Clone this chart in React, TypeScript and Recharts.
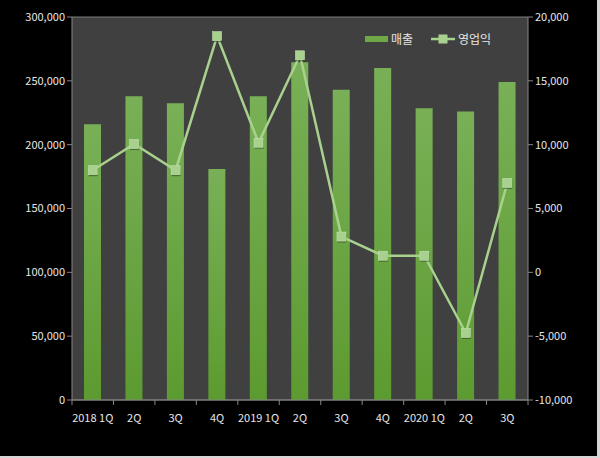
import React from 'react'
import {
  ComposedChart,
  Bar,
  Line,
  XAxis,
  YAxis,
  CartesianGrid,
} from 'recharts'

const quarters = ['2018 1Q', '2Q', '3Q', '4Q', '2019 1Q', '2Q', '3Q', '4Q', '2020 1Q', '2Q', '3Q']
const sales = [216000, 238000, 232500, 181000, 238000, 264500, 243000, 260000, 228500, 226000, 249000]
const operatingProfit = [8000, 10050, 8000, 18500, 10150, 17000, 2800, 1300, 1300, -4750, 7000]

const salesTicks = [0, 50000, 100000, 150000, 200000, 250000, 300000]
const profitTicks = [-10000, -5000, 0, 5000, 10000, 15000, 20000]

const data = quarters.map((q, i) => ({
  key: `${i}-${q}`,
  label: q,
  매출: sales[i],
  영업익: operatingProfit[i],
}))

const W = 600
const H = 458
const MARGIN = { top: 17, right: 0, left: 0, bottom: 0 }
const AXIS_W = 72
const AXIS_H = 58
const PLOT_W = W - AXIS_W * 2
const BAND = PLOT_W / quarters.length

const FONT = '"Noto Sans CJK KR", "Noto Sans", sans-serif'
const TEXT = '#e6e6e6'
const AXIS = '#868686'
const LINE = '#a9d18e'

const fmt = (v: number) => v.toLocaleString('en-US')

// category label centred in its band, tick marks on the band edges
function QuarterTick(props: any) {
  const { x, y, payload, index } = props
  const left = x - BAND / 2
  return (
    <g>
      <line x1={left} y1={y - 8} x2={left} y2={y - 3} stroke={AXIS} />
      {index === quarters.length - 1 && (
        <line x1={left + BAND} y1={y - 8} x2={left + BAND} y2={y - 3} stroke={AXIS} />
      )}
      <text x={x} y={y + 14} textAnchor="middle" fill={TEXT} fontSize={11} fontFamily={FONT}>
        {data[index]?.label ?? payload.value}
      </text>
    </g>
  )
}

function SquareDot(props: any) {
  const { cx, cy } = props
  if (cx == null || cy == null) return null
  return (
    <g>
      <rect x={cx - 4} y={cy - 3} width={9} height={9} fill="#1a2a12" opacity={0.45} />
      <rect x={cx - 4.5} y={cy - 4.5} width={9} height={9} fill={LINE} stroke="#c4e0b0" strokeWidth={0.6} />
    </g>
  )
}

function LegendBox() {
  return (
    <svg width={160} height={20} style={{ position: 'absolute', left: 365, top: 30, overflow: 'visible' }}>
      <rect x={0} y={6} width={23} height={6} fill="#6fa846" />
      <text x={26} y={14} fill={TEXT} fontSize={12} fontFamily={FONT}>매출</text>
      <line x1={66} y1={9} x2={90} y2={9} stroke={LINE} strokeWidth={2.5} />
      <rect x={73.5} y={4.5} width={9} height={9} fill={LINE} />
      <text x={93} y={14} fill={TEXT} fontSize={12} fontFamily={FONT}>영업익</text>
    </svg>
  )
}

export default function App() {
  return (
    <div style={{ position: 'absolute', left: 0, top: 0, width: W, height: H, background: '#d6d6d6' }}>
      <div style={{ position: 'relative', width: W - 3, height: H - 2, background: '#000', overflow: 'hidden' }}>
        <ComposedChart width={W} height={H} data={data} margin={MARGIN}>
          <defs>
            <linearGradient id="salesFill" x1="0" y1="0" x2="0" y2="1">
              <stop offset="0%" stopColor="#79b057" />
              <stop offset="100%" stopColor="#5c9b30" />
            </linearGradient>
          </defs>
          <CartesianGrid vertical={false} fill="#404040" stroke="#7a7a7a" strokeWidth={1} />
          <XAxis
            dataKey="key"
            height={AXIS_H}
            tick={<QuarterTick />}
            tickLine={false}
            axisLine={{ stroke: AXIS }}
            interval={0}
          />
          <YAxis
            yAxisId="sales"
            orientation="left"
            width={AXIS_W}
            domain={[0, 300000]}
            ticks={salesTicks}
            tickFormatter={fmt}
            tick={{ fill: TEXT, fontSize: 11, fontFamily: FONT }}
            tickLine={{ stroke: AXIS }}
            tickSize={5}
            axisLine={{ stroke: AXIS }}
            allowDataOverflow
          />
          <YAxis
            yAxisId="profit"
            orientation="right"
            width={AXIS_W}
            domain={[-10000, 20000]}
            ticks={profitTicks}
            tickFormatter={fmt}
            tick={{ fill: TEXT, fontSize: 11, fontFamily: FONT }}
            tickLine={{ stroke: AXIS }}
            tickSize={5}
            axisLine={{ stroke: AXIS }}
            allowDataOverflow
          />
          <Bar
            yAxisId="sales"
            dataKey="매출"
            fill="url(#salesFill)"
            barSize={17}
            isAnimationActive={false}
          />
          <Line
            yAxisId="profit"
            type="linear"
            dataKey="영업익"
            stroke={LINE}
            strokeWidth={2.5}
            dot={<SquareDot />}
            activeDot={false}
            isAnimationActive={false}
          />
        </ComposedChart>
        <LegendBox />
      </div>
    </div>
  )
}
